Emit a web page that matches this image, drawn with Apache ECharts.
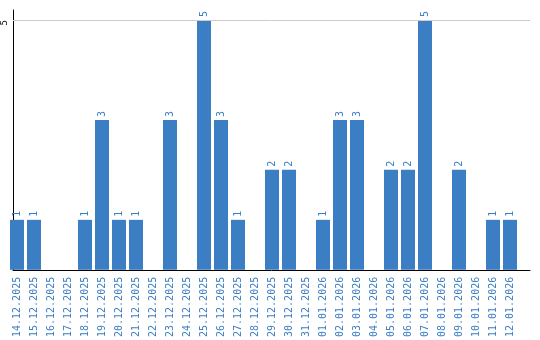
<!DOCTYPE html>
<html><head><meta charset="utf-8">
<script src="https://cdn.jsdelivr.net/npm/echarts@6/dist/echarts.min.js"></script>
<style>html,body{margin:0;padding:0;background:#fff}#c{width:540px;height:340px}</style>
</head><body><div id="c"></div>
<script>
var categories = ["14.12.2025","15.12.2025","16.12.2025","17.12.2025","18.12.2025","19.12.2025","20.12.2025","21.12.2025","22.12.2025","23.12.2025","24.12.2025","25.12.2025","26.12.2025","27.12.2025","28.12.2025","29.12.2025","30.12.2025","31.12.2025","01.01.2026","02.01.2026","03.01.2026","04.01.2026","05.01.2026","06.01.2026","07.01.2026","08.01.2026","09.01.2026","10.01.2026","11.01.2026","12.01.2026"];
var counts = [1,1,0,0,1,3,1,1,0,3,0,5,3,1,0,2,2,0,1,3,3,0,2,2,5,0,2,0,1,1];
var yMax = 5.2;
var yTick = 5;
var BLUE = '#3b7ec3';
var FONT = 'DejaVu Sans Mono';
var chart = echarts.init(document.getElementById('c'), null, {renderer:'canvas'});
chart.setOption({
  animation:false,
  grid:[
    {left:8.5, width:510, top:10, height:260, containLabel:false},
    {left:10, right:10, top:10, height:260, containLabel:false}
  ],
  xAxis:[
    {type:'category', gridIndex:0, data:categories,
     axisLine:{show:false}, axisTick:{show:false},
     axisLabel:{rotate:90, interval:0, margin:7, color:BLUE, fontFamily:FONT, fontSize:10}},
    {type:'value', gridIndex:1, min:0, max:1, axisLine:{show:true, onZero:false, lineStyle:{color:'#000', width:1}},
     axisTick:{show:false}, axisLabel:{show:false}, splitLine:{show:false}}
  ],
  yAxis:[
    {type:'value', gridIndex:0, min:0, max:yMax, show:false, splitLine:{show:false}},
    {type:'value', gridIndex:1, min:0, max:yMax, interval:yTick,
     axisLine:{show:true, lineStyle:{color:'#000', width:1}}, axisTick:{show:false},
     axisLabel:{showMinLabel:false, showMaxLabel:false, rotate:90, align:'right', margin:4, color:'#000', fontFamily:FONT, fontSize:9,
       formatter:function(v){return v===yTick?String(v):'';}},
     splitLine:{show:false}}
  ],
  series:[
   {type:'line', xAxisIndex:1, yAxisIndex:1, data:[], silent:true,
    markLine:{silent:true, symbol:['none','none'], label:{show:false},
      lineStyle:{color:'#cccccc', width:1, type:'solid'}, data:[{yAxis:yTick}]}},
   {type:'bar', xAxisIndex:0, yAxisIndex:0, data:counts, barWidth:14,
    itemStyle:{color:BLUE}, z:3,
    label:{show:true, position:'top', rotate:90, align:'left', verticalAlign:'middle', distance:3,
      color:BLUE, fontFamily:FONT, fontSize:10,
      formatter:function(p){return p.value?String(p.value):'';}}
  }]
});
</script></body></html>
